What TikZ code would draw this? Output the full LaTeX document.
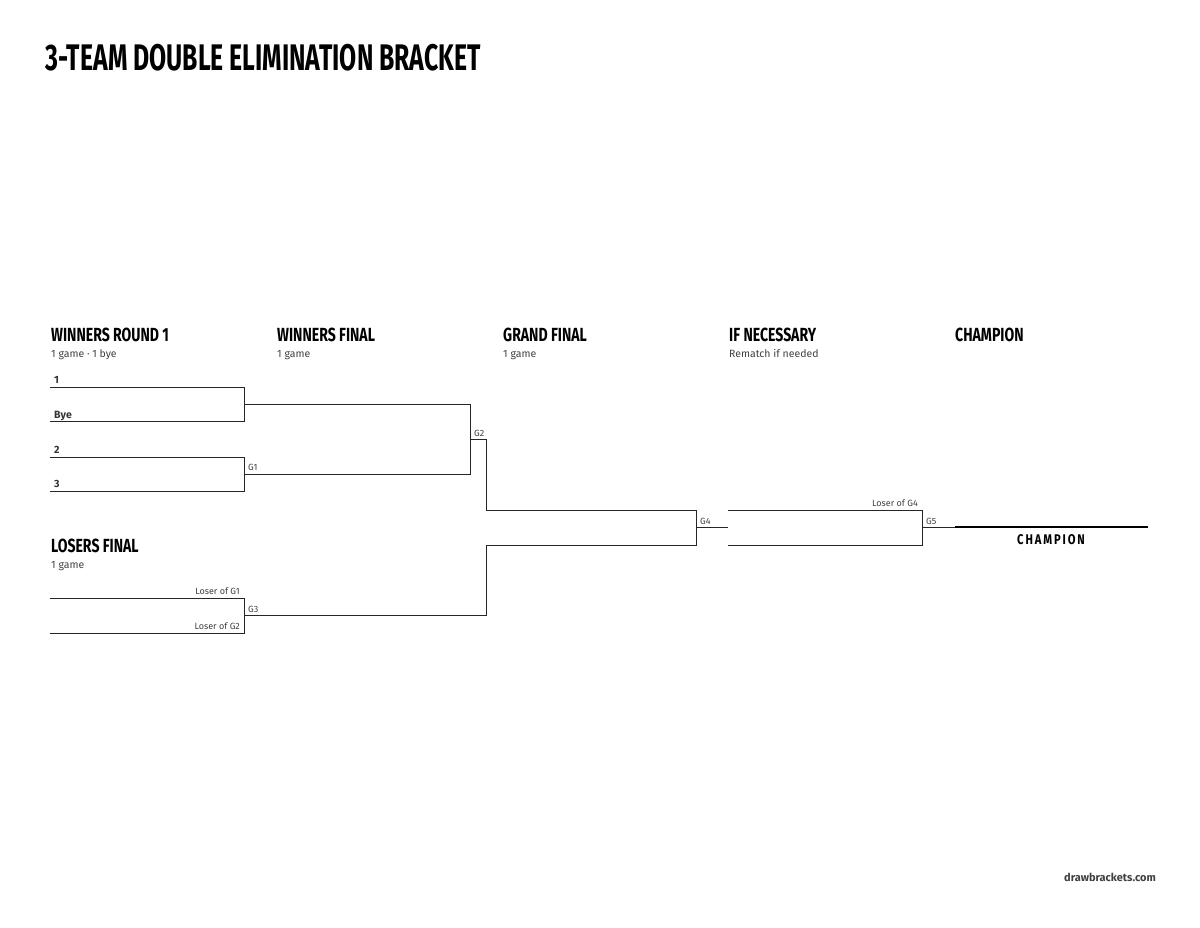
\documentclass[tikz,border=0pt]{standalone}
\usepackage{fontspec}
\setmainfont{Fira Sans}
\usepackage{graphicx}
\begin{document}
\begin{tikzpicture}[x=1pt,y=-1pt,
  ln/.style={draw=black!85,line width=0.9pt},
  hd/.style={anchor=base west,inner sep=0,font=\fontsize{19}{19}\bfseries},
  sub/.style={anchor=base west,inner sep=0,font=\fontsize{10.5}{11}\selectfont,text=black!75},
  tm/.style={anchor=base west,inner sep=0,font=\fontsize{10.5}{11}\bfseries,text=black!80},
  gl/.style={anchor=base west,inner sep=0,font=\fontsize{9}{9}\selectfont,text=black!75},
  lo/.style={anchor=base east,inner sep=0,font=\fontsize{9}{9}\selectfont,text=black!75}]
\newcommand{\cond}[1]{\scalebox{0.74}[1]{#1}}
\useasboundingbox (0,0) rectangle (1200,927);
\node[hd,font=\fontsize{37}{37}\bfseries] (title) at (45,70) {\scalebox{0.67}[1]{3-TEAM DOUBLE ELIMINATION BRACKET}};
% headers
\node[hd] (h1) at (51,341) {\cond{WINNERS ROUND 1}};
\node[sub] (s1) at (51,357) {1 game · 1 bye};
\node[hd] (h2) at (277,341) {\cond{WINNERS FINAL}};
\node[sub] (s2) at (277,357) {1 game};
\node[hd] (h3) at (503,341) {\cond{GRAND FINAL}};
\node[sub] (s3) at (503,357) {1 game};
\node[hd] (h4) at (729,341) {\cond{IF NECESSARY}};
\node[sub] (s4) at (729,357) {Rematch if needed};
\node[hd] (h5) at (955,341) {\cond{CHAMPION}};
\node[hd] (h6) at (51,552) {\cond{LOSERS FINAL}};
\node[sub] (s6) at (51,568) {1 game};
% coordinates
\coordinate (a1) at (50,387); \coordinate (a2) at (244,387);
\coordinate (b1) at (50,421); \coordinate (b2) at (244,421);
\coordinate (c1) at (50,457); \coordinate (c2) at (244,457);
\coordinate (d1) at (50,491); \coordinate (d2) at (244,491);
\coordinate (w1) at (244,404); \coordinate (w2) at (470,404);
\coordinate (g1) at (244,474); \coordinate (g1e) at (470,474);
\coordinate (g2) at (470,439); \coordinate (g2e) at (486,439);
\coordinate (u1) at (486,510); \coordinate (u2) at (696,510);
\coordinate (l1) at (50,598); \coordinate (l2) at (244,598);
\coordinate (m1) at (50,633); \coordinate (m2) at (244,633);
\coordinate (g3) at (244,615); \coordinate (g3e) at (486,615);
\coordinate (v1) at (486,545); \coordinate (v2) at (696,545);
\coordinate (g4) at (696,527); \coordinate (g4e) at (728,527);
\coordinate (p1) at (728,510); \coordinate (p2) at (922,510);
\coordinate (q1) at (728,545); \coordinate (q2) at (922,545);
\coordinate (g5) at (922,527); \coordinate (ch1) at (955,527); \coordinate (ch2) at (1148,527);
% lines
\draw[ln] (a1) -- (a2) -- (b2) -- (b1);
\draw[ln] (c1) -- (c2) -- (d2) -- (d1);
\draw[ln] (w1) -- (w2) -- (g1e) -- (g1);
\draw[ln] (g2) -- (g2e) -- (u1) -- (u2) -- (v2) -- (v1) -- (g3e) -- (g3);
\draw[ln] (l1) -- (l2) -- (m2) -- (m1);
\draw[ln] (g4) -- (g4e);
\draw[ln] (p1) -- (p2) -- (q2) -- (q1);
\draw[ln] (g5) -- (ch1);
\draw[line width=2pt] (ch1) -- (ch2);
% labels
\node[tm] (t1) at (54,383) {1};
\node[tm] (tb) at (54,418) {Bye};
\node[tm] (t2) at (54,453) {2};
\node[tm] (t3) at (54,487) {3};
\node[gl] (lg1) at (248,470) {G1};
\node[gl] (lg2) at (474,436) {G2};
\node[gl] (lg3) at (248,612) {G3};
\node[gl] (lg4) at (700,524) {G4};
\node[gl] (lg5) at (926,524) {G5};
\node[lo] (lA) at (240,594) {Loser of G1};
\node[lo] (lB) at (240,629) {Loser of G2};
\node[lo] (lC) at (918,506) {Loser of G4};
\node[anchor=base,inner sep=0,font=\fontsize{14}{14}\bfseries] (champ) at (1051,544) {\scalebox{0.8}[1]{C\,H\,A\,M\,P\,I\,O\,N}};
\node[anchor=base east,inner sep=0,font=\fontsize{11}{11}\bfseries,text=black!75] (site) at (1156,881) {drawbrackets.com};
\end{tikzpicture}
\end{document}
